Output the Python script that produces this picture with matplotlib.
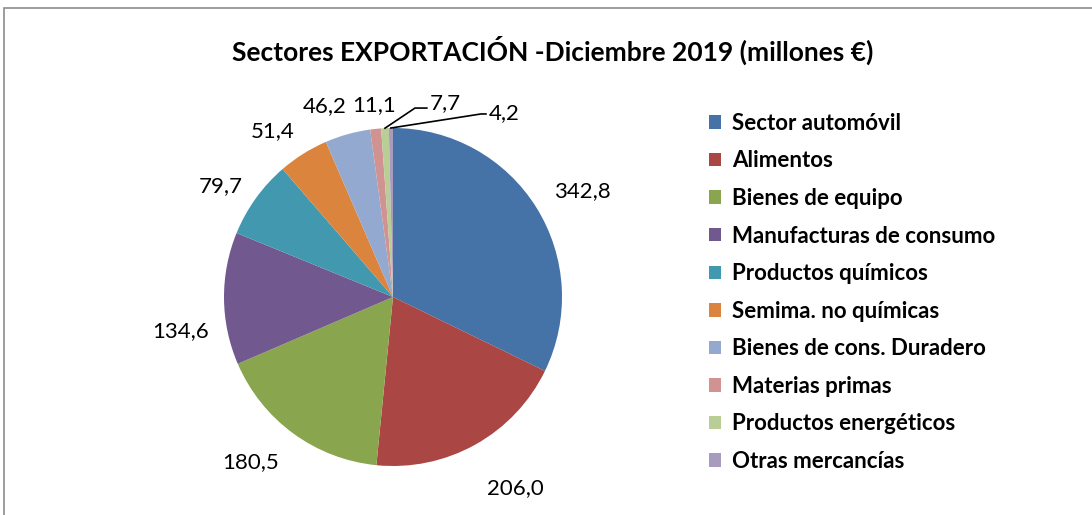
import numpy as np
import matplotlib.pyplot as plt
from matplotlib.patches import Rectangle

plt.rcParams['font.family'] = ['Lato', 'DejaVu Sans']

sectores = ['Sector automóvil', 'Alimentos', 'Bienes de equipo', 'Manufacturas de consumo',
            'Productos químicos', 'Semima. no químicas', 'Bienes de cons. Duradero',
            'Materias primas', 'Productos energéticos', 'Otras mercancías']
valores = [342.8, 206.0, 180.5, 134.6, 79.7, 51.4, 46.2, 11.1, 7.7, 4.2]
etiquetas = ['342,8', '206,0', '180,5', '134,6', '79,7', '51,4', '46,2', '11,1', '7,7', '4,2']
colores = ['#4572A7', '#AA4643', '#89A54E', '#71588F', '#4198AF',
           '#DB843D', '#93A9CF', '#D19392', '#B9CD96', '#A99BBD']

# label nudges (pixels, x right / y up) to mimic Excel placement
nudges = [(3, -3), (3, -19), (-4, -5), (2, -32), (1, -8), (0, -2), (3, 5), (0, 0), (0, 0), (0, 0)]

fig = plt.figure(figsize=(10.92, 5.15), dpi=100)
fig.patches.append(Rectangle((4 / 1092, -0.1), 1.2, 1.1 - 8 / 515, transform=fig.transFigure,
                             fill=False, edgecolor='#8c8c8c', linewidth=1.2))

R = 169
ax = fig.add_axes([(393 - R) / 1092, (515 - 466) / 515, 2 * R / 1092, 2 * R / 515])
wedges, _ = ax.pie(valores, colors=colores, startangle=90, counterclock=False,
                   wedgeprops=dict(linewidth=0))
ax.set_xlim(-1, 1)
ax.set_ylim(-1, 1)
ax.set_aspect('equal')

for i, (w, txt) in enumerate(zip(wedges, etiquetas)):
    ang = np.deg2rad((w.theta1 + w.theta2) / 2)
    x, y = np.cos(ang), np.sin(ang)
    if i == 8:
        ax.plot([x, 0.13, 0.2], [y, 1.118, 1.118], color='black', lw=1.2, clip_on=False)
        ax.text(0.217, 1.15, txt, fontsize=16, ha='left', va='center', clip_on=False)
        continue
    if i == 9:
        ax.plot([x, 0.52, 0.55], [y, 1.083, 1.083], color='black', lw=1.2, clip_on=False)
        ax.text(0.568, 1.09, txt, fontsize=16, ha='left', va='center', clip_on=False)
        continue
    ha = 'left' if x > 0.15 else ('right' if x < -0.15 else 'center')
    va = 'bottom' if y > 0.15 else ('top' if y < -0.15 else 'center')
    d = 1.1
    if i == 6:
        ha = 'right'
        d = 1.08
    if i == 7:
        d = 1.08
    dx, dy = nudges[i]
    ax.text(x * d + dx / R, y * d + dy / R, txt, fontsize=16, ha=ha, va=va, clip_on=False)

fig.text(553 / 1092, 1 - 50 / 515, 'Sectores EXPORTACIÓN -Diciembre 2019 (millones €)',
         fontsize=19, fontweight='bold', ha='center', va='center')

leg = fig.legend(wedges, sectores, loc='upper left', bbox_to_anchor=(700 / 1092, 1 - 104 / 515),
                 frameon=False, prop=dict(size=16, weight='bold'), handlelength=0.55,
                 handleheight=0.55, handletextpad=0.5, labelspacing=0.745, borderaxespad=0)

fig.savefig('out.png', dpi=100)
